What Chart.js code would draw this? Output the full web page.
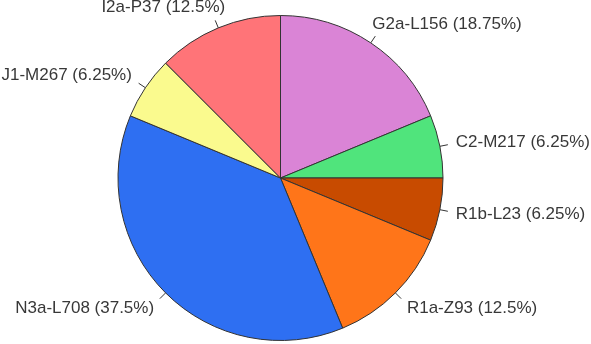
<!DOCTYPE html>
<html>
<head>
<meta charset="utf-8">
<script src="https://cdn.jsdelivr.net/npm/chart.js@4.4.0/dist/chart.umd.min.js"></script>
<style>
  html, body { margin: 0; padding: 0; background: #fff; }
  canvas { display: block; }
</style>
</head>
<body>
<canvas id="pie" width="591" height="344"></canvas>
<script>
// haplogroups, clockwise from 12 o'clock
const haplogroups = ['G2a-L156', 'C2-M217', 'R1b-L23', 'R1a-Z93', 'N3a-L708', 'J1-M267', 'I2a-P37'];
const shares = [18.75, 6.25, 6.25, 12.5, 37.5, 6.25, 12.5];
const sliceColors = ['#da84d6', '#50e47c', '#c84b00', '#ff7519', '#2e6ff2', '#fafa8e', '#ff7478'];

// short ticks from the rim plus "name (xx%)" labels outside the pie
const outsideLabels = {
  id: 'outsideLabels',
  afterDatasetsDraw(chart) {
    const ctx = chart.ctx;
    const arcs = chart.getDatasetMeta(0).data;
    ctx.save();
    ctx.font = '17px "Liberation Sans", Arial, sans-serif';
    ctx.fillStyle = '#383838';
    ctx.strokeStyle = '#333';
    ctx.lineWidth = 1;
    ctx.textBaseline = 'middle';
    arcs.forEach((arc, i) => {
      const mid = (arc.startAngle + arc.endAngle) / 2;
      const cx = arc.x, cy = arc.y, r = arc.outerRadius;
      const dx = Math.cos(mid), dy = Math.sin(mid);
      ctx.beginPath();
      ctx.moveTo(cx + dx * r, cy + dy * r);
      ctx.lineTo(cx + dx * r * 1.05, cy + dy * r * 1.05);
      ctx.stroke();

      const text = haplogroups[i] + ' (' + shares[i] + '%)';
      const w = ctx.measureText(text).width;
      // labels near the top lean towards the middle
      const fx = Math.min(1, Math.max(0, 0.55 - dx * 0.9));
      const lx = cx + dx * r * 1.1 - fx * w;
      const ly = cy + dy * r * 1.1 + dy * 6;
      ctx.textAlign = 'left';
      ctx.fillText(text, lx, ly);
    });
    ctx.restore();
  }
};

new Chart(document.getElementById('pie'), {
  type: 'pie',
  data: {
    labels: haplogroups,
    datasets: [{
      data: shares,
      backgroundColor: sliceColors,
      borderColor: '#333',
      borderWidth: 1
    }]
  },
  options: {
    responsive: false,
    animation: false,
    layout: { padding: { top: 15, bottom: 3, left: 117, right: 147 } },
    plugins: {
      legend: { display: false },
      tooltip: { enabled: false }
    }
  },
  plugins: [outsideLabels]
});
</script>
</body>
</html>
